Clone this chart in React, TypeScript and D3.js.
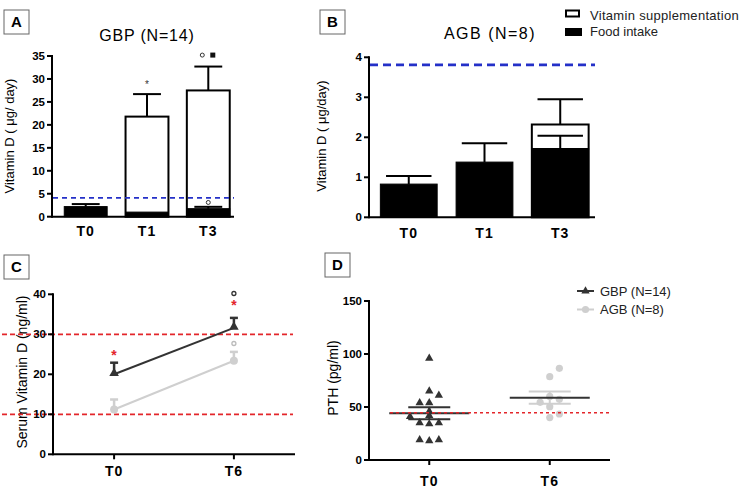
import React from "react";
import * as d3 from "d3";

// ---------- Data ----------
const timesAB = ["T0", "T1", "T3"];
const gbpFood = [2.2, 1.0, 1.75];
const gbpFoodErr = [2.75, 0, 2.15];
const gbpSupplTotal = [0, 21.8, 27.5];
const gbpSupplErr = [0, 26.7, 32.7];
const ticksA = [0, 5, 10, 15, 20, 25, 30, 35];
const refA = 4.1;

const agbFood = [0.83, 1.38, 1.72];
const agbFoodErr = [1.03, 1.85, 2.04];
const agbSupplTotal = [0, 0, 2.32];
const agbSupplErr = [0, 0, 2.95];
const ticksB = [0, 1, 2, 3, 4];
const refB = 3.81;

const timesCD = ["T0", "T6"];
const serumGBP = [20.0, 31.6];
const serumGBPErr = [22.9, 34.1];
const serumAGB = [11.2, 23.4];
const serumAGBErr = [13.7, 25.6];
const ticksC = [0, 10, 20, 30, 40];
const refC = [10, 30];
const starC = [25.2, 37.7];
const circGBPC = [40.2];
const circAGBC = [27.7];

const pthGBP = [96, 65, 61, 54, 54, 46, 41, 42, 35, 34, 35, 19, 18, 19];
const pthGBPCol = [0, 0, 1, -1, 0, 0, -2, 0, -1, 0, 1, -1, 0, 1];
const pthAGB = [86.5, 78.6, 54.4, 57.2, 50.3, 43.4, 40, 60];
const pthAGBCol = [1, 0, -1, 1, 0, 1, 0, 0];
const ticksD = [0, 50, 100, 150];
const refD = 44.6;

// ---------- Styles ----------
const FONT = "'Liberation Sans', Arial, Helvetica, sans-serif";
const BLUE = "#2430c8";
const RED = "#e3262b";
const DARK = "#333333";
const LIGHT = "#cfcfcf";

function PanelBox({ x, y, label }: { x: number; y: number; label: string }) {
  return (
    <g>
      <rect x={x} y={y} width={25} height={24} fill="#fff" stroke="#666" strokeWidth={1} />
      <text x={x + 12.5} y={y + 17} textAnchor="middle" fontSize={15} fontWeight="bold" fontFamily={FONT}>
        {label}
      </text>
    </g>
  );
}

function YAxis({ scale, ticks, x, top, bottom }: any) {
  return (
    <g>
      <line x1={x} x2={x} y1={top - 1} y2={bottom + 1} stroke="#000" strokeWidth={2} />
      {ticks.map((t: number) => (
        <g key={t}>
          <line x1={x - 5} x2={x} y1={scale(t)} y2={scale(t)} stroke="#000" strokeWidth={2} />
          <text x={x - 7} y={scale(t)} dy="0.36em" textAnchor="end" fontSize={11.5} fontWeight="bold" fontFamily={FONT}>
            {t}
          </text>
        </g>
      ))}
    </g>
  );
}

function ErrBar({ cx, y0, y1, w, color = "#000", sw = 2 }: any) {
  return (
    <g>
      <line x1={cx} x2={cx} y1={y0} y2={y1} stroke={color} strokeWidth={sw} />
      <line x1={cx - w / 2} x2={cx + w / 2} y1={y1} y2={y1} stroke={color} strokeWidth={sw} />
    </g>
  );
}

function BarPanel({ times, food, foodErr, suppl, supplErr, yScale, xScale, ticks, ref, axisRight, capFrac, dash, dashW, labelY }: any) {
  const y0 = yScale(0);
  const bw = xScale.bandwidth();
  const x0 = xScale.range()[0];
  return (
    <g>
      {times.map((t: string, i: number) => {
        const bx = xScale(t);
        const cx = bx + bw / 2;
        return (
          <g key={t}>
            {suppl[i] > 0 && (
              <g>
                <ErrBar cx={cx} y0={yScale(suppl[i])} y1={yScale(supplErr[i])} w={bw * capFrac} />
                <rect x={bx} y={yScale(suppl[i])} width={bw} height={y0 - yScale(suppl[i])} fill="#fff" stroke="#000" strokeWidth={2} />
              </g>
            )}
            {foodErr[i] > 0 && <ErrBar cx={cx} y0={yScale(food[i])} y1={yScale(foodErr[i])} w={bw * capFrac} />}
            <rect x={bx} y={yScale(food[i])} width={bw} height={y0 - yScale(food[i])} fill="#000" stroke="#000" strokeWidth={1} />
            <text x={cx} y={labelY} textAnchor="middle" fontSize={14} fontWeight="bold" fontFamily={FONT} letterSpacing={1}>
              {t}
            </text>
          </g>
        );
      })}
      <line x1={x0 + 1} x2={axisRight} y1={yScale(ref)} y2={yScale(ref)} stroke={BLUE} strokeWidth={dashW} strokeDasharray={dash} />
      <line x1={x0} x2={axisRight} y1={y0} y2={y0} stroke="#000" strokeWidth={2} />
      <YAxis scale={yScale} ticks={ticks} x={x0} top={yScale.range()[1]} bottom={y0} />
    </g>
  );
}

export default function App() {
  // Panel A
  const yA = d3.scaleLinear().domain([0, 35]).range([216.7, 56]);
  const xA = d3.scaleBand().domain(timesAB).range([52, 242]).paddingInner(0.3).paddingOuter(0.2);
  // Panel B
  const yB = d3.scaleLinear().domain([0, 4]).range([217.3, 57.3]);
  const xB = d3.scaleBand().domain(timesAB).range([369, 600]).paddingInner(0.25).paddingOuter(0.15);
  // Panel C
  const yC = d3.scaleLinear().domain([0, 40]).range([454.3, 294.3]);
  const xC = d3.scalePoint().domain(timesCD).range([53, 295]).padding(0.51).align(0.5);
  // Panel D
  const yD = d3.scaleLinear().domain([0, 150]).range([460, 301]);
  const xD = d3.scalePoint().domain(timesCD).range([369, 610]).padding(0.5);

  const triC = d3.symbol().type(d3.symbolTriangle).size(40)() as string;
  const triD = d3.symbol().type(d3.symbolTriangle).size(30)() as string;
  const colW = 9.6;

  const lineC = d3
    .line<number>()
    .x((_, i) => xC(timesCD[i]) as number)
    .y((d) => yC(d));

  const gMean = d3.mean(pthGBP) as number;
  const gSem = (d3.deviation(pthGBP) as number) / Math.sqrt(pthGBP.length);
  const aMean = d3.mean(pthAGB) as number;
  const aSem = (d3.deviation(pthAGB) as number) / Math.sqrt(pthAGB.length);

  const xT0 = xD("T0") as number;
  const xT6 = xD("T6") as number;

  return (
    <svg width={740} height={492} style={{ position: "absolute", left: 0, top: 0, background: "#fff" }} fontFamily={FONT}>
      <rect x={0} y={0} width={740} height={492} fill="#fff" />

      {/* Panel A */}
      <PanelBox x={4} y={10} label="A" />
      <text x={147} y={41} textAnchor="middle" fontSize={16} letterSpacing={0.8} fontFamily={FONT}>
        GBP  (N=14)
      </text>
      <text transform={`translate(14,${136}) rotate(-90)`} textAnchor="middle" fontSize={13} fontFamily={FONT}>
        Vitamin  D ( μg/ day)
      </text>
      <BarPanel
        times={timesAB}
        food={gbpFood}
        foodErr={gbpFoodErr}
        suppl={gbpSupplTotal}
        supplErr={gbpSupplErr}
        yScale={yA}
        xScale={xA}
        ticks={ticksA}
        ref={refA}
        axisRight={234}
        capFrac={0.65}
        dash="5,4"
        dashW={1.6}
        labelY={236}
      />
      {/* A annotations */}
      <text x={(xA("T1") as number) + xA.bandwidth() / 2} y={yA(29) + 4} textAnchor="middle" fontSize={10} fill="#333">*</text>
      <circle cx={(xA("T3") as number) + xA.bandwidth() / 2 - 6} cy={yA(35.2)} r={2} fill="none" stroke="#333" strokeWidth={1} />
      <rect x={(xA("T3") as number) + xA.bandwidth() / 2 + 2} y={yA(35.2) - 2.5} width={5} height={5} fill="#111" />
      <circle cx={(xA("T3") as number) + xA.bandwidth() / 2} cy={yA(3.1)} r={2} fill="none" stroke="#333" strokeWidth={1} />

      {/* Panel B */}
      <PanelBox x={320} y={10} label="B" />
      <text x={490} y={39} textAnchor="middle" fontSize={16} letterSpacing={1.5} fontFamily={FONT}>
        AGB (N=8)
      </text>
      <text transform={`translate(326,${136}) rotate(-90)`} textAnchor="middle" fontSize={13} fontFamily={FONT}>
        Vitamin  D ( μg/day)
      </text>
      <BarPanel
        times={timesAB}
        food={agbFood}
        foodErr={agbFoodErr}
        suppl={agbSupplTotal}
        supplErr={agbSupplErr}
        yScale={yB}
        xScale={xB}
        ticks={ticksB}
        ref={refB}
        axisRight={595}
        capFrac={0.8}
        dash="8,5"
        dashW={2.6}
        labelY={238}
      />
      {/* Legend B */}
      <rect x={566} y={10.5} width={13} height={6} fill="#fff" stroke="#000" strokeWidth={2} />
      <text x={590} y={20} fontSize={13} fill="#222" letterSpacing={0.3}>Vitamin  supplementation</text>
      <rect x={565} y={28} width={17} height={8} fill="#000" />
      <text x={590} y={36} fontSize={13} fill="#222">Food intake</text>

      {/* Panel C */}
      <PanelBox x={4} y={255} label="C" />
      <text transform={`translate(27,${372}) rotate(-90)`} textAnchor="middle" fontSize={14} fontFamily={FONT}>
        Serum Vitamin D (ng/ml)
      </text>
      {refC.map((r) => (
        <line key={r} x1={2} x2={293} y1={yC(r)} y2={yC(r)} stroke={RED} strokeWidth={1.8} strokeDasharray="5,3" />
      ))}
      <line x1={53} x2={295} y1={yC(0)} y2={yC(0)} stroke="#000" strokeWidth={2} />
      {timesCD.map((t) => (
        <g key={t}>
          <line x1={xC(t) as number} x2={xC(t) as number} y1={yC(0)} y2={yC(0) + 5} stroke="#000" strokeWidth={2} />
          <text x={xC(t) as number} y={476} textAnchor="middle" fontSize={14} fontWeight="bold" letterSpacing={1}>{t}</text>
        </g>
      ))}
      <YAxis scale={yC} ticks={ticksC} x={53} top={yC(40)} bottom={yC(0)} />
      {/* AGB series */}
      <path d={lineC(serumAGB) as string} fill="none" stroke={LIGHT} strokeWidth={2} />
      {timesCD.map((t, i) => (
        <g key={"a" + t}>
          <ErrBar cx={xC(t)} y0={yC(serumAGB[i])} y1={yC(serumAGBErr[i])} w={8} color={LIGHT} sw={2.5} />
          <circle cx={xC(t) as number} cy={yC(serumAGB[i])} r={4} fill={LIGHT} />
        </g>
      ))}
      {/* GBP series */}
      <path d={lineC(serumGBP) as string} fill="none" stroke={DARK} strokeWidth={2} />
      {timesCD.map((t, i) => (
        <g key={"g" + t}>
          <ErrBar cx={xC(t)} y0={yC(serumGBP[i])} y1={yC(serumGBPErr[i])} w={8} color={DARK} sw={2.5} />
          <path d={triC} transform={`translate(${xC(t)},${yC(serumGBP[i]) - 1})`} fill={DARK} />
        </g>
      ))}
      {/* annotations C */}
      {timesCD.map((t, i) => (
        <text key={"s" + t} x={xC(t) as number} y={yC(starC[i]) + 6} textAnchor="middle" fontSize={14} fontWeight="bold" fill={RED}>*</text>
      ))}
      <circle cx={xC("T6") as number} cy={yC(circGBPC[0])} r={2} fill="none" stroke="#333" strokeWidth={1.3} />
      <circle cx={xC("T6") as number} cy={yC(circAGBC[0])} r={2} fill="none" stroke="#bbb" strokeWidth={1.3} />

      {/* Panel D */}
      <PanelBox x={325} y={253} label="D" />
      <text transform={`translate(338,${378}) rotate(-90)`} textAnchor="middle" fontSize={14} fontFamily={FONT}>
        PTH (pg/ml)
      </text>
      <line x1={369} x2={610} y1={yD(0)} y2={yD(0)} stroke="#000" strokeWidth={2} />
      {timesCD.map((t) => (
        <g key={"d" + t}>
          <line x1={xD(t) as number} x2={xD(t) as number} y1={yD(0)} y2={yD(0) + 5} stroke="#000" strokeWidth={2} />
          <text x={xD(t) as number} y={486} textAnchor="middle" fontSize={14} fontWeight="bold" letterSpacing={1}>{t}</text>
        </g>
      ))}
      <YAxis scale={yD} ticks={ticksD} x={369} top={yD(150)} bottom={yD(0)} />
      {/* GBP points */}
      {pthGBP.map((v, i) => (
        <path key={"pg" + i} d={triD} transform={`translate(${xT0 + pthGBPCol[i] * colW},${yD(v)})`} fill={DARK} />
      ))}
      {/* AGB points */}
      {pthAGB.map((v, i) => (
        <circle key={"pa" + i} cx={xT6 + pthAGBCol[i] * colW} cy={yD(v)} r={3.6} fill={LIGHT} />
      ))}
      {/* GBP mean ± SEM */}
      <line x1={xT0} x2={xT0} y1={yD(gMean - gSem)} y2={yD(gMean + gSem)} stroke={DARK} strokeWidth={2} />
      <line x1={xT0 - 21} x2={xT0 + 21} y1={yD(gMean + gSem)} y2={yD(gMean + gSem)} stroke={DARK} strokeWidth={2} />
      <line x1={xT0 - 21} x2={xT0 + 21} y1={yD(gMean - gSem)} y2={yD(gMean - gSem)} stroke={DARK} strokeWidth={2} />
      <line x1={xT0 - 40} x2={xT0 + 40} y1={yD(gMean)} y2={yD(gMean)} stroke={DARK} strokeWidth={2} />
      {/* AGB mean ± SEM */}
      <line x1={xT6} x2={xT6} y1={yD(aMean - aSem)} y2={yD(aMean + aSem)} stroke={LIGHT} strokeWidth={2} />
      <line x1={xT6 - 21} x2={xT6 + 21} y1={yD(aMean + aSem)} y2={yD(aMean + aSem)} stroke={LIGHT} strokeWidth={2} />
      <line x1={xT6 - 21} x2={xT6 + 21} y1={yD(aMean - aSem)} y2={yD(aMean - aSem)} stroke={LIGHT} strokeWidth={2} />
      <line x1={xT6 - 40} x2={xT6 + 40} y1={yD(aMean)} y2={yD(aMean)} stroke={DARK} strokeWidth={2} />
      {/* reference */}
      <line x1={390} x2={610} y1={yD(refD)} y2={yD(refD)} stroke={RED} strokeWidth={1.5} strokeDasharray="3,3" />
      {/* Legend D */}
      <line x1={577} x2={594} y1={291} y2={291} stroke={DARK} strokeWidth={2} />
      <path d={triD} transform="translate(585.5,291)" fill={DARK} />
      <text x={600} y={295.5} fontSize={13} fill="#222">GBP (N=14)</text>
      <line x1={577} x2={594} y1={309.5} y2={309.5} stroke={LIGHT} strokeWidth={2} />
      <circle cx={585.5} cy={309.5} r={3.6} fill={LIGHT} />
      <text x={600} y={314} fontSize={13} fill="#222">AGB (N=8)</text>
    </svg>
  );
}
